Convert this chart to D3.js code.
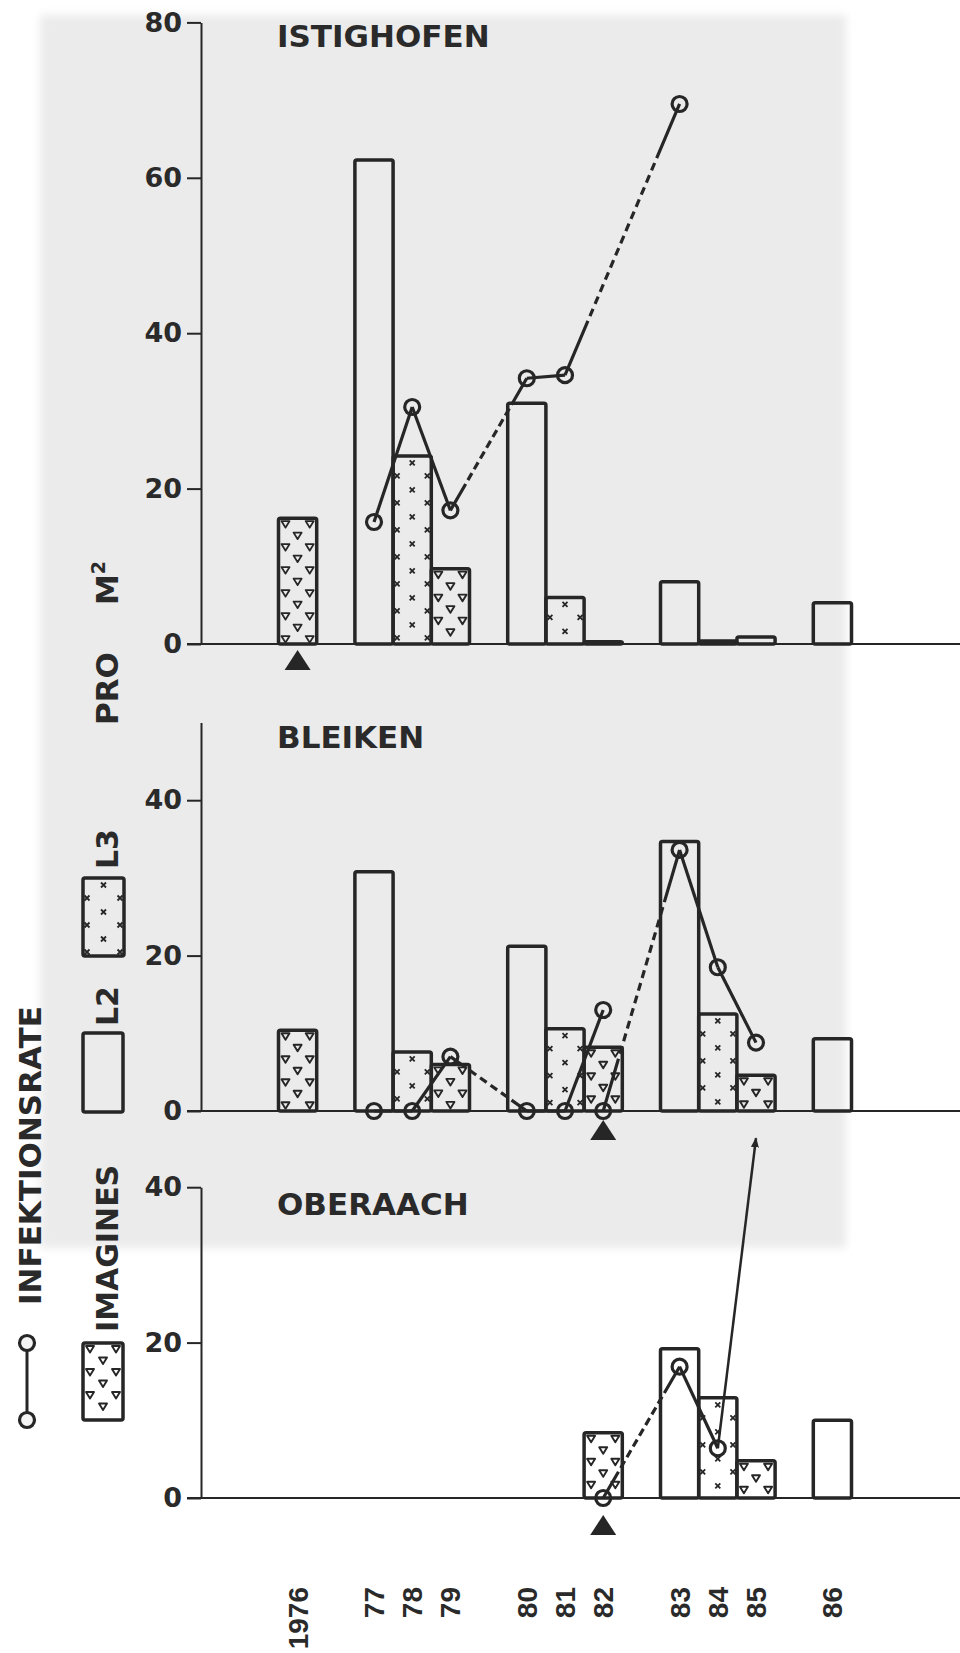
<!DOCTYPE html>
<html><head><meta charset="utf-8">
<script src="https://cdn.jsdelivr.net/npm/d3@7"></script>
<style>html,body{margin:0;padding:0;background:#fff;} svg{display:block}</style>
</head><body>
<svg id="c" width="960" height="1653"></svg>
<script>
// ---------- DATA ----------
const years  = ["1976","77","78","79","80","81","82","83","84","85","86"];
const stages = ["IMAGINES","L2","L3","IMAGINES","L2","L3","IMAGINES","L2","L3","IMAGINES","L2"];
const panelTitles = ["ISTIGHOFEN","BLEIKEN","OBERAACH"];
const yMax   = [80, 50, 40];
const yTicks = [[0,20,40,60,80],[0,20,40],[0,20,40]];

const istBars = [16.2,62.3,24.2,9.7,31.0,6.0,0.3,8.0,0.4,0.9,5.3];
const bleBars = [10.4,30.8,7.6,6.0,21.2,10.6,8.2,34.7,12.5,4.6,9.3];
const obeBars = [null,null,null,null,null,null,8.4,19.2,12.9,4.8,10.0];

// Infektionsrate points [year, value] and the kind of link to the next point
const istInf   = [["77",15.7],["78",30.5],["79",17.2],["80",34.2],["81",34.6],["83",69.5]];
const istLinks = ["solid","solid","dashed","solid","dashed"];
const bleInf   = [["77",0],["78",0],["79",7.0],["80",0],["81",0],["82",13.0],["82",0],["83",33.6],["84",18.5],["85",8.8]];
const bleLinks = ["solid","solid","dashed","solid","solid","none","dashed","solid","solid"];
const obeInf   = [["82",0],["83",16.9],["84",6.4]];
const obeLinks = ["dashed","solid"];
const obeArrow = [["84",6.4],["85",46.3]];   // off-scale value shown as arrow

const istFlights = ["1976"], bleFlights = ["82"], obeFlights = ["82"];

// ---------- LAYOUT ----------
const INK = "#262626", BG = "#ebebeb";
const zeroY = [644, 1111, 1498];
const pxPerUnit = 7.77;
const axisX = 201;
const flightOffset = [6, 9, 17];

const svg = d3.select("#c");
const defs = svg.append("defs");
defs.append("filter").attr("id","soft").append("feGaussianBlur").attr("stdDeviation",4);
defs.append("marker").attr("id","arrow").attr("viewBox","0 0 10 10")
  .attr("refX",9).attr("refY",5).attr("markerWidth",4).attr("markerHeight",6)
  .attr("markerUnits","strokeWidth").attr("orient","auto")
  .append("path").attr("d","M0,1 L10,5 L0,9 Z").attr("fill",INK);

// paper background
svg.append("rect").attr("x",40).attr("y",15).attr("width",806).attr("height",1233)
  .attr("fill",BG).attr("filter","url(#soft)");

// x band scale with a spacer before each new L2 generation
const domain = [];
years.forEach((y,i)=>{ if(stages[i]==="L2") domain.push("gap"+i); domain.push(y); });
const x = d3.scaleBand().domain(domain).range([278.5, 851.5]).padding(0);
const bw = x.bandwidth();
const cx = y => x(y) + bw/2;

function triMark(g, px, py){
  g.append("path").attr("d",`M${px-4},${py-3} L${px+4},${py-3} L${px},${py+3.5} Z`)
   .attr("fill","none").attr("stroke",INK).attr("stroke-width",1.9).attr("stroke-linejoin","round");
}
function crossMark(g, px, py){
  const s = 2.5;
  g.append("path").attr("d",`M${px-s},${py-s} L${px+s},${py+s} M${px+s},${py-s} L${px-s},${py+s}`)
   .attr("stroke",INK).attr("stroke-width",1.8);
}
function pattern(g, stage, x0, y0, w, h){
  if(stage==="IMAGINES"){
    for(let r=0;;r++){
      const yy = y0 + 6 + r*11.5;
      if(yy > y0 + h - 4) break;
      const xs = r%2===0 ? [x0+7, x0+w-7] : [x0+w/2];
      xs.forEach(xx=>triMark(g, xx, yy));
    }
  } else if(stage==="L3"){
    for(let r=0;;r++){
      const yy = y0 + 7 + r*27;
      if(yy > y0 + h - 4) break;
      crossMark(g, x0+w/2, yy);
    }
    for(let r=0;;r++){
      const yy = y0 + 20 + r*27;
      if(yy > y0 + h - 3) break;
      crossMark(g, x0+4, yy); crossMark(g, x0+w-4, yy);
    }
  }
}
function dashArray(L){
  const lead = 0.2*L, tail = 0.2*L, M = L - lead - tail, d = 8;
  let n = Math.max(1, Math.round((M-5)/13));
  const gap = (M - n*d)/(n+1);
  const arr = [lead, gap];
  for(let i=0;i<n;i++){ arr.push(d, gap); }
  arr.push(tail + 2, 2000);
  return arr.join(",");
}

const barsAll  = [istBars, bleBars, obeBars];
const infAll   = [istInf, bleInf, obeInf];
const linksAll = [istLinks, bleLinks, obeLinks];
const flightsAll = [istFlights, bleFlights, obeFlights];

for(let p=0;p<3;p++){
  const z = zeroY[p];
  const y = d3.scaleLinear().domain([0, yMax[p]]).range([z, z - yMax[p]*pxPerUnit]);
  const g = svg.append("g");

  // y axis
  const ax = g.append("g").attr("transform",`translate(${axisX},0)`)
    .call(d3.axisLeft(y).tickValues(yTicks[p]).tickSize(14).tickSizeOuter(0).tickPadding(5));
  ax.select(".domain").attr("stroke",INK).attr("stroke-width",2);
  ax.selectAll(".tick line").attr("stroke",INK).attr("stroke-width",2);
  ax.selectAll(".tick text").attr("fill","#2a2a2a").attr("font-family","DejaVu Sans")
    .attr("font-weight","bold").attr("font-size",27);

  // title
  g.append("text").attr("x",277).attr("y", y(yMax[p]) + (p===2?28:25))
    .text(panelTitles[p]).attr("fill","#2a2a2a").attr("font-family","DejaVu Sans")
    .attr("font-weight","bold").attr("font-size",31);

  // bars
  const bars = years.map((yr,i)=>({yr, st:stages[i], v:barsAll[p][i]})).filter(d=>d.v!=null);
  const bg = g.append("g");
  bars.forEach(d=>{
    const top = y(d.v);
    bg.append("rect").attr("x",x(d.yr)).attr("y",top).attr("width",bw).attr("height",z-top)
      .attr("rx",2).attr("fill","none").attr("stroke",INK).attr("stroke-width",3.5);
    pattern(bg, d.st, x(d.yr), top, bw, z-top);
  });

  // zero baseline
  g.append("line").attr("x1",187).attr("x2",960).attr("y1",z).attr("y2",z)
    .attr("stroke",INK).attr("stroke-width",2.2);

  // infection lines
  const pts = infAll[p].map(d=>[cx(d[0]), y(d[1])]);
  linksAll[p].forEach((t,i)=>{
    if(t==="none") return;
    const a = pts[i], b = pts[i+1];
    const ln = g.append("line").attr("x1",a[0]).attr("y1",a[1]).attr("x2",b[0]).attr("y2",b[1])
      .attr("stroke",INK).attr("stroke-width",3.2);
    if(t==="dashed") ln.attr("stroke-dasharray", dashArray(Math.hypot(b[0]-a[0], b[1]-a[1])));
  });
  if(p===2){
    const a=[cx(obeArrow[0][0]), y(obeArrow[0][1])], b=[cx(obeArrow[1][0]), y(obeArrow[1][1])];
    g.append("line").attr("x1",a[0]).attr("y1",a[1]).attr("x2",b[0]).attr("y2",b[1])
      .attr("stroke",INK).attr("stroke-width",2.5).attr("marker-end","url(#arrow)");
  }
  pts.forEach(q=>{
    g.append("circle").attr("cx",q[0]).attr("cy",q[1]).attr("r",7.5)
      .attr("fill","none").attr("stroke",INK).attr("stroke-width",3.2);
  });

  // flight markers
  flightsAll[p].forEach(yr=>{
    const c = cx(yr), t = z + flightOffset[p];
    g.append("path").attr("d",`M${c},${t} L${c+13},${t+20} L${c-13},${t+20} Z`).attr("fill",INK);
  });
}

// year labels
svg.append("g").selectAll("text").data(years).join("text")
  .attr("transform",d=>`translate(${cx(d)+10},1587) rotate(-90)`)
  .attr("text-anchor","end").attr("fill","#2a2a2a")
  .attr("font-family","Liberation Sans").attr("font-weight","bold").attr("font-size",28)
  .text(d=>d);

// left-side labels & legend
const lab = (txt, tx, ty, fs) => svg.append("text").attr("transform",`translate(${tx},${ty}) rotate(-90)`)
  .attr("fill","#2a2a2a").attr("font-family","DejaVu Sans").attr("font-weight","bold")
  .attr("font-size",fs).text(txt);
lab("INFEKTIONSRATE", 41, 1305, 31);
lab("IMAGINES", 118, 1332, 30);
lab("L2", 118, 1026, 30);
lab("L3", 118, 869, 30);
const pro = lab("PRO", 118, 725, 31);
pro.append("tspan").attr("dx",47).text("M");
pro.append("tspan").attr("font-size",19).attr("dy",-13).text("2");

// legend symbols
const lg = svg.append("g");
lg.append("line").attr("x1",27).attr("x2",27).attr("y1",1343).attr("y2",1420).attr("stroke",INK).attr("stroke-width",3);
[1343,1420].forEach(yy=>lg.append("circle").attr("cx",27).attr("cy",yy).attr("r",7.5)
  .attr("fill","#f4f4f4").attr("stroke",INK).attr("stroke-width",3.2));
const legendBoxes = [["IMAGINES",83,1343,40,77],["L2",83,1033,40,79],["L3",83,878,41,78]];
legendBoxes.forEach(b=>{
  lg.append("rect").attr("x",b[1]).attr("y",b[2]).attr("width",b[3]).attr("height",b[4]).attr("rx",2)
    .attr("fill","none").attr("stroke",INK).attr("stroke-width",3.5);
  pattern(lg, b[0], b[1], b[2], b[3], b[4]);
});
</script>
</body></html>
